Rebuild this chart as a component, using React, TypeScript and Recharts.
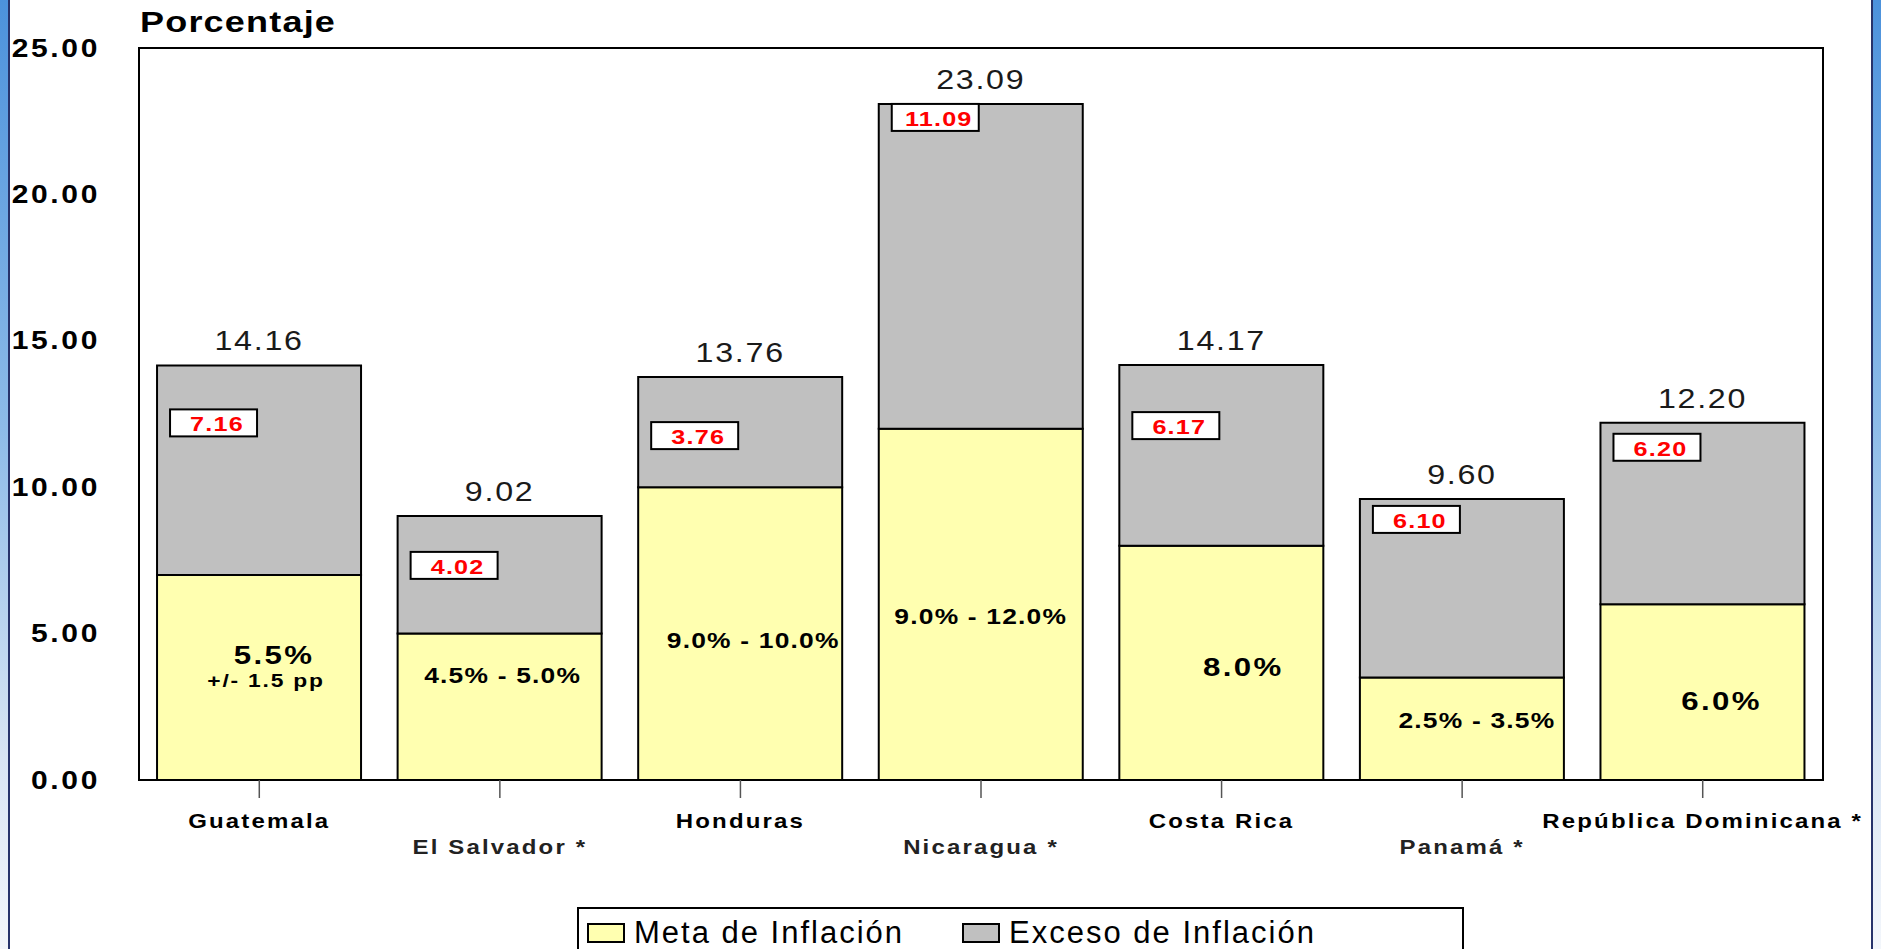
import React from 'react';
import { BarChart, Bar, XAxis, YAxis, LabelList, ReferenceArea } from 'recharts';

const countries = ['Guatemala', 'El Salvador *', 'Honduras', 'Nicaragua *', 'Costa Rica', 'Panamá *', 'República Dominicana *'];
const metaValues = [7.0, 5.0, 10.0, 12.0, 8.0, 3.5, 6.0];
const excesoValues = [7.16, 4.02, 3.76, 11.09, 6.17, 6.1, 6.2];
const totalValues = [14.16, 9.02, 13.76, 23.09, 14.17, 9.6, 12.2];
const metaLabels = ['5.5%', '4.5% - 5.0%', '9.0% - 10.0%', '9.0% - 12.0%', '8.0%', '2.5% - 3.5%', '6.0%'];
const metaNotes = ['+/- 1.5 pp', '', '', '', '', '', ''];
const yTicks = [0, 5, 10, 15, 20, 25];

// label placement (pixels), as laid out in the original slide
const redBoxDrop = [44, 36, 45, 0, 47, 7, 11];
const innerDx = [15, 3, 13, 0, 22, 15, 19];
const innerDy = [-23, -31, 7, 12, 4, -8, 9];

const FONT = '"Liberation Sans", Arial, sans-serif';
const YELLOW = '#FFFFB0';
const GRAY = '#C0C0C0';
const WIDE = 1.2; // the slide stretched its text sideways

const data = countries.map((name, i) => ({
  name,
  meta: metaValues[i],
  exceso: excesoValues[i],
  total: totalValues[i],
  metaLabel: metaLabels[i],
}));

// text drawn at (x, y) and stretched horizontally around that point
const WideText = ({ x, y, sx = WIDE, children, ...rest }: any) => (
  <text transform={`translate(${x},${y}) scale(${sx},1)`} x={0} y={0} fontFamily={FONT} {...rest}>
    {children}
  </text>
);

const XTick = (props: any) => {
  const { x, y, payload, index } = props;
  const odd = index % 2 === 1;
  return (
    <WideText x={x} y={y + (odd ? 56 : 30)} textAnchor="middle" fontWeight="bold" fontSize={20} letterSpacing={1.8} fill={odd ? '#222' : '#000'}>
      {payload.value}
    </WideText>
  );
};

const YTick = (props: any) => {
  const { x, y, payload } = props;
  return (
    <WideText x={x} y={y} textAnchor="end" dominantBaseline="central" fontWeight="bold" fontSize={25} letterSpacing={2.2} fill="#000">
      {payload.value.toFixed(2)}
    </WideText>
  );
};

const TopLabels = (props: any) => {
  const { x, y, width, value } = props;
  let index = props.index;
  if (index === undefined) index = excesoValues.indexOf(value);
  const bx = x + 13;
  const by = y + redBoxDrop[index];
  return (
    <g>
      <WideText x={x + width / 2} y={y - 15} sx={1.15} textAnchor="middle" fontSize={28} letterSpacing={1.5} fill="#1a1a1a">
        {totalValues[index].toFixed(2)}
      </WideText>
      <rect x={bx} y={by} width={87} height={27} fill="#fff" stroke="#000" strokeWidth={2} />
      <WideText x={bx + 47} y={by + 22} textAnchor="middle" fontWeight="bold" fontSize={21} letterSpacing={1} fill="#FF0000">
        {excesoValues[index].toFixed(2)}
      </WideText>
    </g>
  );
};

const InnerLabels = (props: any) => {
  const { x, y, width, height, value } = props;
  let index = props.index;
  if (index === undefined) index = metaLabels.indexOf(value);
  const cx = x + width / 2 + innerDx[index];
  const cy = y + height / 2 + innerDy[index];
  const note = metaNotes[index];
  const single = metaLabels[index].length <= 4;
  return (
    <g>
      <WideText
        x={cx}
        y={cy}
        textAnchor="middle"
        dominantBaseline="central"
        fontWeight="bold"
        fontSize={single ? 26 : 22}
        letterSpacing={single ? 2 : 1}
        fill="#000"
      >
        {metaLabels[index]}
      </WideText>
      {note && (
        <WideText x={cx - 8} y={cy + 26} textAnchor="middle" dominantBaseline="central" fontWeight="bold" fontSize={19} letterSpacing={1.5} fill="#000">
          {note}
        </WideText>
      )}
    </g>
  );
};

const legendItems = [
  { name: 'Meta de Inflación', color: YELLOW },
  { name: 'Exceso de Inflación', color: GRAY },
];

const Strip = ({ left, side }: { left: number; side: 'l' | 'r' }) => (
  <div
    style={{
      position: 'absolute',
      left,
      top: 0,
      width: 10,
      height: 949,
      background: 'linear-gradient(to bottom, #4c92dc 0%, #8dbbe8 45%, #d9e5f4 80%, #f3f6fb 100%)',
      borderRight: side === 'l' ? '2px solid #27336b' : undefined,
      borderLeft: side === 'r' ? '2px solid #27336b' : undefined,
      boxSizing: 'border-box',
    }}
  />
);

export default function App() {
  return (
    <div style={{ position: 'absolute', left: 0, top: 0, width: 1881, height: 949, background: '#fff', overflow: 'hidden', fontFamily: FONT }}>
      <BarChart width={1881} height={949} data={data} margin={{ top: 48, right: 58, bottom: 69, left: 19 }} barCategoryGap="7.5%">
        <XAxis
          dataKey="name"
          height={100}
          tick={<XTick />}
          tickSize={18}
          tickMargin={0}
          interval={0}
          tickLine={{ stroke: '#555', strokeWidth: 1.5 }}
          axisLine={{ stroke: '#000', strokeWidth: 2 }}
        />
        <YAxis
          width={120}
          domain={[0, 25]}
          ticks={yTicks}
          tick={<YTick />}
          tickSize={0}
          tickMargin={39}
          tickLine={false}
          axisLine={{ stroke: '#000', strokeWidth: 2 }}
        />
        <ReferenceArea y1={0} y2={25} fill="none" stroke="#000" strokeWidth={2} ifOverflow="visible" />
        <Bar dataKey="meta" name="Meta de Inflación" stackId="a" fill={YELLOW} stroke="#000" strokeWidth={2} isAnimationActive={false}>
          <LabelList dataKey="metaLabel" content={<InnerLabels />} />
        </Bar>
        <Bar dataKey="exceso" name="Exceso de Inflación" stackId="a" fill={GRAY} stroke="#000" strokeWidth={2} isAnimationActive={false}>
          <LabelList dataKey="exceso" content={<TopLabels />} />
        </Bar>
      </BarChart>

      <div
        style={{
          position: 'absolute',
          left: 140,
          top: 2,
          fontSize: 30,
          fontWeight: 'bold',
          letterSpacing: 1,
          color: '#000',
          lineHeight: '40px',
          transform: `scaleX(${WIDE})`,
          transformOrigin: 'left top',
        }}
      >
        Porcentaje
      </div>

      <div
        style={{
          position: 'absolute',
          left: 577,
          top: 907,
          width: 887,
          height: 60,
          border: '2px solid #000',
          background: '#fff',
          boxSizing: 'border-box',
          display: 'flex',
          alignItems: 'flex-start',
          paddingLeft: 8,
          paddingTop: 9,
        }}
      >
        {legendItems.map((it, i) => (
          <div key={it.name} style={{ display: 'flex', alignItems: 'center', marginRight: i === 0 ? 58 : 0 }}>
            <div style={{ width: 38, height: 20, background: it.color, border: '2px solid #000', boxSizing: 'border-box', marginRight: 9 }} />
            <span style={{ fontSize: 31, letterSpacing: 2, color: '#000', lineHeight: '30px' }}>{it.name}</span>
          </div>
        ))}
      </div>

      <Strip left={0} side="l" />
      <Strip left={1871} side="r" />
    </div>
  );
}
